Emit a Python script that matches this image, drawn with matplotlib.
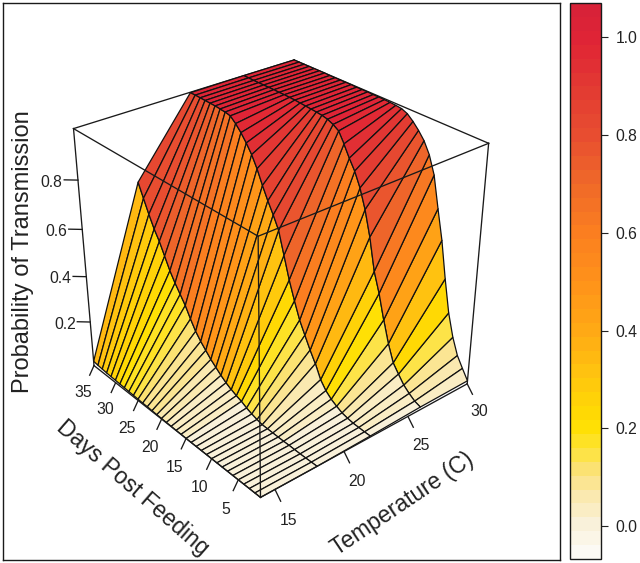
import numpy as np
import matplotlib
matplotlib.use('Agg')
import matplotlib.pyplot as plt
from matplotlib.cm import ScalarMappable
from matplotlib.colors import LinearSegmentedColormap, Normalize

plt.rcParams['font.family'] = ['Liberation Sans', 'DejaVu Sans']

# grid of the surface
temps = [14, 18, 22, 26, 30]
days = list(range(1, 36))

# probability of transmission per temperature, day 1 to day 35
p_t14 = [0, 0, 0, 0, 0, 0, 0, 0, 0, 0, 0, 0, 0, 0, 0, .001, .001, .002, .002, .003,
         .003, .004, .005, .005, .006, .007, .008, .009, .01, .011, .012, .013, .015, .017, .02]
p_t18 = [0, 0, 0, 0, .001, .002, .002, .003, .004, .005, .006, .012, .02, .03, .043, .052, .064, .078, .095, .115,
         .135, .16, .185, .215, .255, .30, .335, .37, .41, .46, .51, .55, .60, .655, .71]
p_t22 = [.005, .006, .008, .01, .015, .022, .035, .05, .072, .105, .16, .205, .255, .306, .375, .45, .54, .63, .68, .725,
         .775, .83, .875, .91, .94, .965, .985, .99, .992, .994, .995, .996, .997, .998, .998]
p_t26 = [.012, .022, .04, .062, .095, .13, .20, .29, .39, .47, .60, .70, .775, .83, .87, .915, .955, .97, .98, .985,
         .988, .99, .992, .994, .996, .997, .998, .998, .999, .999, .999, .999, .999, 1.0, 1.0]
p_t30 = [.014, .055, .098, .166, .26, .395, .546, .665, .79, .86, .905, .935, .96, .98, .99, .993, .995, .996, .997, .997,
         .998, .998, .998, .999, .999, .999, .999, .999, 1.0, 1.0, 1.0, 1.0, 1.0, 1.0, 1.0]

day_ticks = [5, 10, 15, 20, 25, 30, 35]
temp_ticks = [15, 20, 25, 30]
prob_ticks = [0.2, 0.4, 0.6, 0.8]
bar_ticks = [0.0, 0.2, 0.4, 0.6, 0.8, 1.0]

# colour scale
bar_min, bar_max = -0.067, 1.07
stop_values = [-0.067, 0.0, 0.02, 0.05, 0.1, 0.15, 0.2, 0.3, 0.4, 0.5, 0.6, 0.7, 0.8, 0.9, 1.0, 1.07]
stop_colors = ['#FCFAF4', '#F9F0D6', '#FAEDC4', '#FAE9B0', '#FBE27E', '#FEE335', '#FFE000', '#FFC50F', '#FFA915',
               '#FF921A', '#FB7F20', '#F06A28', '#E84F30', '#E33B32', '#E02535', '#D82238']
norm = Normalize(bar_min, bar_max)
cmap = LinearSegmentedColormap.from_list(
    'prob', [(norm(v), c) for v, c in zip(stop_values, stop_colors)], N=40)

W, H = 640, 563
fig = plt.figure(figsize=(W / 100, H / 100), dpi=100)
line_col = '#1a1a1a'
text_col = '#222222'

frame = fig.add_axes([3 / W, 3 / H, 557 / W, 557 / H])
frame.set_xticks([])
frame.set_yticks([])
for s in frame.spines.values():
    s.set_linewidth(1.0)
    s.set_color(line_col)

# view fitted to the box corners of the reference
ax = fig.add_axes([-7.4 / W, 15.4 / H, 557 / W, 557 / H], projection='3d', computed_zorder=False)
ax.patch.set_alpha(0)
ax.set_axis_off()
ax.view_init(elev=30.04, azim=229.86)
ax.set_proj_type('persp', focal_length=0.43)
ax.set_box_aspect((1, 1, 0.986), zoom=0.838)

X, Y = np.meshgrid(temps, days)
Z = np.array([p_t14, p_t18, p_t22, p_t26, p_t30]).T
ax.plot_surface(X, Y, Z, rstride=1, cstride=1, cmap=cmap, norm=norm, shade=False,
                edgecolor='#111111', linewidth=0.9, antialiased=True, zorder=2)

xa, xb = temps[0], temps[-1]
ya, yb = days[0], days[-1]
za, zb = 0, 1
ax.set_xlim(xa, xb)
ax.set_ylim(ya, yb)
ax.set_zlim(za, zb)


def edge(p, q, z):
    ax.plot([p[0], q[0]], [p[1], q[1]], [p[2], q[2]], color=line_col, lw=0.95, zorder=z)


# back edges go under the surface, front edges over it
edge((xa, yb, zb), (xb, yb, zb), 1)
edge((xb, yb, zb), (xb, ya, zb), 1)
edge((xb, yb, za), (xb, yb, zb), 1)
edge((xa, ya, zb), (xa, yb, zb), 3)
edge((xa, ya, zb), (xb, ya, zb), 3)
edge((xa, ya, za), (xa, ya, zb), 3)
edge((xa, yb, za), (xa, yb, zb), 3)
edge((xb, ya, za), (xb, ya, zb), 3)
edge((xa, ya, za), (xa, yb, za), 3)
edge((xa, ya, za), (xb, ya, za), 3)

tick_fs = 11.3
for d in day_ticks:
    edge((xa, d, za), (xa - .36, d, za - .035), 3)
    ax.text(xa - .9, d, za - .1, str(d), fontsize=tick_fs, color=text_col,
            ha='center', va='center', zorder=4)
for t in temp_ticks:
    edge((t, ya, za), (t, ya - 1.0, za - .032), 3)
    ax.text(t - .1, ya - 2.6, za - .082, str(t), fontsize=tick_fs, color=text_col,
            ha='center', va='center', zorder=4)
for p in prob_ticks:
    edge((xa, yb, p), (xa - .575, yb + 1.12, p), 3)
    ax.text(xa - .575 * 1.95, yb + 1.12 * 1.95, p - .012, f'{p:.1f}', fontsize=tick_fs, color=text_col,
            ha='center', va='center', zorder=4)

fig.text(23 / W, 1 - 252 / H, 'Probability of Transmission', rotation=90, fontsize=17,
         ha='center', va='center', color=text_col)
fig.text(133 / W, 1 - 488 / H, 'Days Post Feeding', rotation=-41, fontsize=16.5,
         ha='center', va='center', rotation_mode='anchor', color=text_col)
fig.text(403 / W, 1 - 504 / H, 'Temperature (C)', rotation=34, fontsize=16.5,
         ha='center', va='center', rotation_mode='anchor', color=text_col)

cax = fig.add_axes([570 / W, 1 - 559 / H, 31 / W, 556 / H])
cb = fig.colorbar(ScalarMappable(norm=norm, cmap=cmap), cax=cax, ticks=bar_ticks)
cb.ax.tick_params(length=5, width=0.8, pad=5.5, labelsize=tick_fs, colors=text_col)
cb.ax.set_yticklabels([f'{v:.1f}' for v in bar_ticks])
cb.outline.set_linewidth(1.0)
cb.outline.set_edgecolor(line_col)

fig.savefig('out.png', dpi=100)
